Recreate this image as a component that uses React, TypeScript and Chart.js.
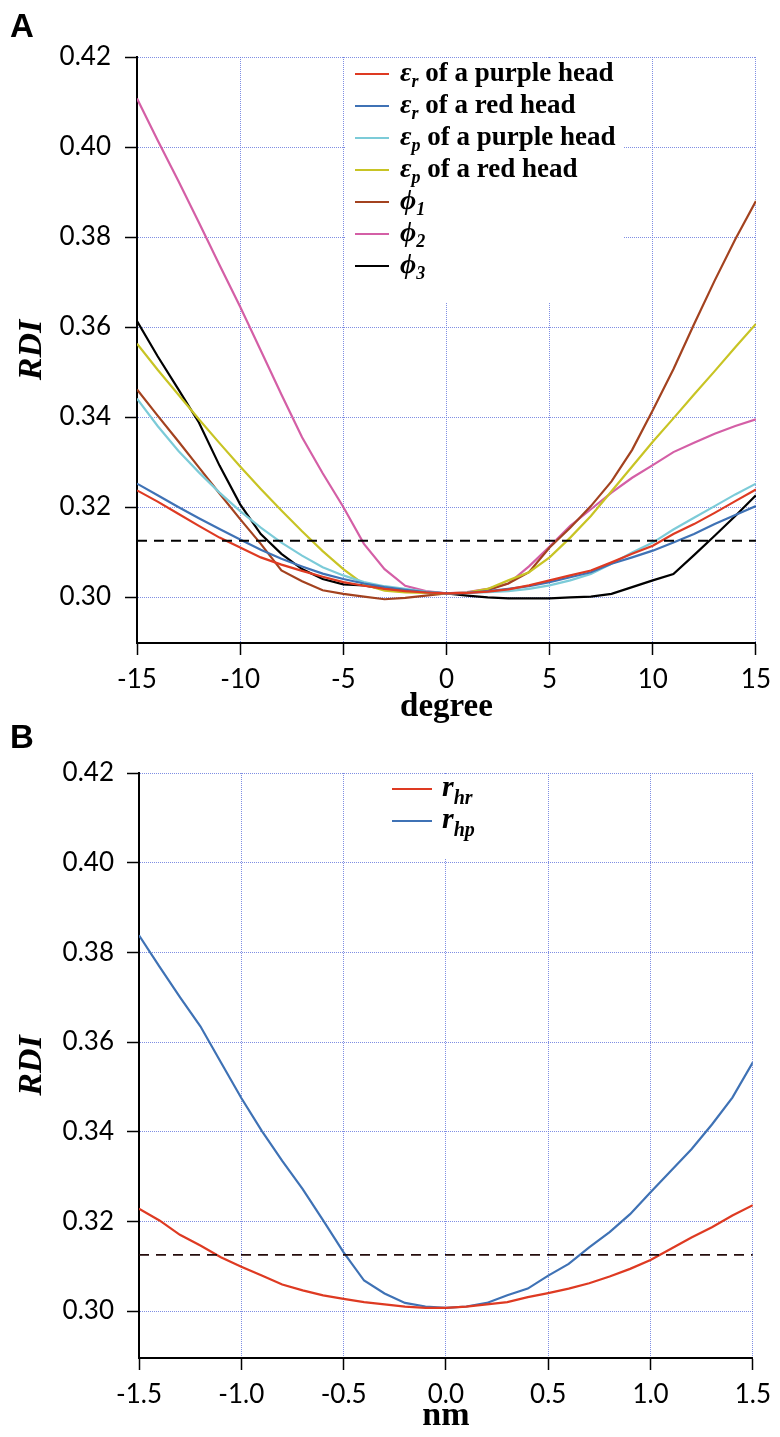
import React, { useEffect, useRef } from 'react';
import { Chart, registerables } from 'chart.js';

Chart.register(...registerables);

// ---------- Panel A data (RDI vs degree) ----------
const degrees = [-15, -14, -13, -12, -11, -10, -9, -8, -7, -6, -5, -4, -3, -2, -1, 0, 1, 2, 3, 4, 5, 6, 7, 8, 9, 10, 11, 12, 13, 14, 15];
const epsRPurple = [0.3237, 0.3212, 0.3185, 0.3158, 0.3132, 0.3110, 0.3088, 0.3072, 0.3058, 0.3045, 0.3033, 0.3025, 0.3018, 0.3013, 0.3010, 0.3008, 0.3009, 0.3012, 0.3017, 0.3026, 0.3037, 0.3048, 0.3059, 0.3077, 0.3096, 0.3114, 0.3140, 0.3162, 0.3187, 0.3213, 0.3239];
const epsRRed = [0.3252, 0.3226, 0.3200, 0.3175, 0.3151, 0.3128, 0.3105, 0.3085, 0.3068, 0.3052, 0.3040, 0.3030, 0.3022, 0.3016, 0.3011, 0.3008, 0.3009, 0.3013, 0.3018, 0.3024, 0.3033, 0.3044, 0.3055, 0.3074, 0.3088, 0.3103, 0.3121, 0.3140, 0.3162, 0.3182, 0.3202];
const epsPPurple = [0.3441, 0.3380, 0.3325, 0.3277, 0.3232, 0.3191, 0.3154, 0.3121, 0.3092, 0.3066, 0.3048, 0.3033, 0.3024, 0.3018, 0.3012, 0.3008, 0.3009, 0.3011, 0.3013, 0.3018, 0.3026, 0.3037, 0.3051, 0.3074, 0.3099, 0.3121, 0.3150, 0.3176, 0.3202, 0.3228, 0.3252];
const epsPRed = [0.3563, 0.3505, 0.3450, 0.3395, 0.3342, 0.3290, 0.3240, 0.3192, 0.3146, 0.3102, 0.3062, 0.3028, 0.3014, 0.3010, 0.3009, 0.3008, 0.3010, 0.3018, 0.3037, 0.3055, 0.3088, 0.3132, 0.3180, 0.3235, 0.3290, 0.3345, 0.3397, 0.3450, 0.3502, 0.3555, 0.3607];
const phi1 = [0.3461, 0.3403, 0.3346, 0.3288, 0.3230, 0.3173, 0.3118, 0.3059, 0.3035, 0.3015, 0.3007, 0.3001, 0.2995, 0.2998, 0.3003, 0.3008, 0.3009, 0.3015, 0.3030, 0.3055, 0.3110, 0.3154, 0.3202, 0.3257, 0.3327, 0.3415, 0.3506, 0.3606, 0.3703, 0.3795, 0.3880];
const phi2 = [0.4108, 0.4015, 0.3925, 0.3832, 0.3738, 0.3645, 0.3548, 0.3450, 0.3355, 0.3275, 0.3200, 0.3118, 0.3062, 0.3025, 0.3013, 0.3008, 0.3011, 0.3018, 0.3030, 0.3068, 0.3112, 0.3158, 0.3195, 0.3232, 0.3265, 0.3293, 0.3322, 0.3343, 0.3363, 0.3380, 0.3395];
const phi3 = [0.3613, 0.3535, 0.3462, 0.3388, 0.3292, 0.3206, 0.3140, 0.3096, 0.3062, 0.3040, 0.3028, 0.3026, 0.3018, 0.3015, 0.3011, 0.3008, 0.3003, 0.2999, 0.2997, 0.2997, 0.2997, 0.2999, 0.3001, 0.3007, 0.3022, 0.3037, 0.3051, 0.3093, 0.3136, 0.3180, 0.3226];

const seriesA = [epsRPurple, epsRRed, epsPPurple, epsPRed, phi1, phi2, phi3];
const colorsA = ['#de3a22', '#3f72b5', '#7ccbd8', '#c8c424', '#a3421f', '#d45fa6', '#000000'];
const labelsA = ['εr of a purple head', 'εr of a red head', 'εp of a purple head', 'εp of a red head', 'ϕ1', 'ϕ2', 'ϕ3'];
const legendSymA = ['ε', 'ε', 'ε', 'ε', 'ϕ', 'ϕ', 'ϕ'];
const legendSubA = ['r', 'r', 'p', 'p', '1', '2', '3'];
const legendRestA = [' of a purple head', ' of a red head', ' of a purple head', ' of a red head', '', '', ''];

// ---------- Panel B data (RDI vs nm) ----------
const nmValues = [-1.5, -1.4, -1.3, -1.2, -1.1, -1.0, -0.9, -0.8, -0.7, -0.6, -0.5, -0.4, -0.3, -0.2, -0.1, 0, 0.1, 0.2, 0.3, 0.4, 0.5, 0.6, 0.7, 0.8, 0.9, 1.0, 1.1, 1.2, 1.3, 1.4, 1.5];
const rHr = [0.3228, 0.3202, 0.3170, 0.3146, 0.3120, 0.3099, 0.3079, 0.3059, 0.3046, 0.3035, 0.3027, 0.3020, 0.3015, 0.3010, 0.3007, 0.3007, 0.3010, 0.3015, 0.3020, 0.3031, 0.3040, 0.3050, 0.3062, 0.3077, 0.3094, 0.3114, 0.3139, 0.3164, 0.3187, 0.3213, 0.3236];
const rHp = [0.3838, 0.3768, 0.3700, 0.3635, 0.3555, 0.3475, 0.3402, 0.3335, 0.3272, 0.3202, 0.3131, 0.3068, 0.3039, 0.3018, 0.3010, 0.3007, 0.3010, 0.3018, 0.3035, 0.3050, 0.3079, 0.3105, 0.3142, 0.3176, 0.3216, 0.3265, 0.3313, 0.3361, 0.3416, 0.3476, 0.3555];

const seriesB = [rHr, rHp];
const colorsB = ['#de3a22', '#3f72b5'];
const labelsB = ['rhr', 'rhp'];
const legendSymB = ['r', 'r'];
const legendSubB = ['hr', 'hp'];
const legendRestB = ['', ''];

// ---------- Shared ----------
const threshold = 0.3125;
const yTicks = [0.30, 0.32, 0.34, 0.36, 0.38, 0.40, 0.42];
const yTickLabels = ['0.30', '0.32', '0.34', '0.36', '0.38', '0.40', '0.42'];
const degreeTicks = [-15, -10, -5, 0, 5, 10, 15];
const degreeTickLabels = ['-15', '-10', '-5', '0', '5', '10', '15'];
const nmTicks = [-1.5, -1.0, -0.5, 0, 0.5, 1.0, 1.5];
const nmTickLabels = ['-1.5', '-1.0', '-0.5', '0.0', '0.5', '1.0', '1.5'];

const SERIF = '"Liberation Serif", "Times New Roman", serif';
const SANS = 'Lato, "Liberation Sans", sans-serif';
const GRID = 'rgba(105,122,222,0.85)';

type LegendSpec = {
  box: { x: number; y: number; w: number; h: number };
  lineX1: number; lineX2: number; textX: number; y0: number; dy: number;
  base: number; subDy: number;
  symFont: string; subFont: string; restFont: string;
  colors: string[]; syms: string[]; subs: string[]; rests: string[];
};

function makeLegendPlugin(spec: LegendSpec) {
  return {
    id: 'richLegend',
    afterDraw(chart: any) {
      const ctx = chart.ctx as CanvasRenderingContext2D;
      ctx.save();
      ctx.fillStyle = '#ffffff';
      ctx.fillRect(spec.box.x, spec.box.y, spec.box.w, spec.box.h);
      spec.colors.forEach((c, i) => {
        const y = spec.y0 + i * spec.dy;
        ctx.strokeStyle = c;
        ctx.lineWidth = 2;
        ctx.setLineDash([]);
        ctx.beginPath();
        ctx.moveTo(spec.lineX1, y);
        ctx.lineTo(spec.lineX2, y);
        ctx.stroke();
        ctx.fillStyle = '#000';
        ctx.textAlign = 'left';
        ctx.textBaseline = 'alphabetic';
        let x = spec.textX;
        ctx.font = spec.symFont;
        ctx.fillText(spec.syms[i], x, y + spec.base);
        x += ctx.measureText(spec.syms[i]).width;
        ctx.font = spec.subFont;
        ctx.fillText(spec.subs[i], x, y + spec.base + spec.subDy);
        x += ctx.measureText(spec.subs[i]).width;
        if (spec.rests[i]) {
          ctx.font = spec.restFont;
          ctx.fillText(spec.rests[i], x, y + spec.base);
        }
      });
      ctx.restore();
    },
  };
}

type PanelSpec = {
  xs: number[]; series: number[][]; colors: string[]; labels: string[];
  dashColor: string;
  xTicks: number[]; xTickLabels: string[]; xTitle: string; xTitleSize: number;
  yMin: number; padTop: number; padRight: number; yWidth: number; xHeight: number;
  yLabelPad: number; xTitlePadBottom: number;
  legend: LegendSpec;
};

function buildConfig(p: PanelSpec): any {
  const datasets: any[] = [
    {
      label: 'threshold',
      data: [{ x: p.xs[0], y: threshold }, { x: p.xs[p.xs.length - 1], y: threshold }],
      borderColor: p.dashColor,
      borderWidth: 1.8,
      borderDash: [10, 7],
      pointRadius: 0,
      fill: false,
    },
  ];
  p.series.forEach((s, i) => {
    datasets.push({
      label: p.labels[i],
      data: p.xs.map((x, j) => ({ x, y: s[j] })),
      borderColor: p.colors[i],
      borderWidth: 2.2,
      pointRadius: 0,
      tension: 0,
      fill: false,
    });
  });
  return {
    type: 'line',
    data: { datasets },
    options: {
      animation: false,
      responsive: false,
      devicePixelRatio: 1,
      layout: { padding: { top: p.padTop, right: p.padRight, left: 0, bottom: 0 } },
      plugins: { legend: { display: false }, tooltip: { enabled: false } },
      scales: {
        x: {
          type: 'linear',
          min: p.xTicks[0],
          max: p.xTicks[p.xTicks.length - 1],
          afterBuildTicks: (s: any) => { s.ticks = p.xTicks.map((v) => ({ value: v })); },
          afterFit: (s: any) => { s.height = p.xHeight; },
          ticks: {
            autoSkip: false, maxRotation: 0, padding: 9, color: '#000',
            font: { family: SANS, size: 26 },
            callback: (_v: any, i: number) => p.xTickLabels[i],
          },
          grid: { color: GRID, lineWidth: 1, tickColor: '#000', tickLength: 12, tickWidth: 1.5 },
          border: { color: '#000', width: 2, dash: [1, 1] },
          title: {
            display: true, text: p.xTitle, color: '#000',
            font: { family: SERIF, size: p.xTitleSize, weight: 'bold' },
            padding: { top: 0, bottom: p.xTitlePadBottom },
          },
        },
        y: {
          type: 'linear',
          min: p.yMin,
          max: yTicks[yTicks.length - 1],
          afterBuildTicks: (s: any) => { s.ticks = yTicks.map((v) => ({ value: v })); },
          afterFit: (s: any) => { s.width = p.yWidth; },
          ticks: {
            padding: p.yLabelPad, color: '#000',
            font: { family: SANS, size: 26 },
            callback: (_v: any, i: number) => yTickLabels[i],
          },
          grid: { color: GRID, lineWidth: 1, tickColor: '#000', tickLength: 12, tickWidth: 1.5 },
          border: { color: '#000', width: 2, dash: [1, 1] },
          title: {
            display: true, text: 'RDI', color: '#000',
            font: { family: SERIF, size: 34, weight: 'bold', style: 'italic' },
            padding: { top: 12, bottom: 0 },
          },
        },
      },
    },
    plugins: [makeLegendPlugin(p.legend)],
  };
}

const panelA: PanelSpec = {
  xs: degrees, series: seriesA, colors: colorsA, labels: labelsA, dashColor: '#000000',
  xTicks: degreeTicks, xTickLabels: degreeTickLabels, xTitle: 'degree', xTitleSize: 33,
  yMin: 0.28978, padTop: 57, padRight: 23, yWidth: 137, xHeight: 87, yLabelPad: 14, xTitlePadBottom: 3,
  legend: {
    box: { x: 345, y: 59, w: 279, h: 244 },
    lineX1: 355, lineX2: 389, textX: 400, y0: 74, dy: 32, base: 7, subDy: 6,
    symFont: `italic bold 28px ${SERIF}`, subFont: `italic bold 18px ${SERIF}`, restFont: `bold 27px ${SERIF}`,
    colors: colorsA, syms: legendSymA, subs: legendSubA, rests: legendRestA,
  },
};

const panelB: PanelSpec = {
  xs: nmValues, series: seriesB, colors: colorsB, labels: labelsB, dashColor: '#240c0c',
  xTicks: nmTicks, xTickLabels: nmTickLabels, xTitle: 'nm', xTitleSize: 34,
  yMin: 0.28952, padTop: 53, padRight: 20, yWidth: 139, xHeight: 79, yLabelPad: 13, xTitlePadBottom: 0,
  legend: {
    box: { x: 385, y: 55, w: 125, h: 83 },
    lineX1: 392, lineX2: 432, textX: 442, y0: 69, dy: 32, base: 7, subDy: 8,
    symFont: `italic bold 30px ${SERIF}`, subFont: `italic bold 20px ${SERIF}`, restFont: `bold 25px ${SERIF}`,
    colors: colorsB, syms: legendSymB, subs: legendSubB, rests: legendRestB,
  },
};

function PanelChart({ spec, top, height }: { spec: PanelSpec; top: number; height: number }) {
  const ref = useRef<HTMLCanvasElement | null>(null);
  useEffect(() => {
    if (!ref.current) return;
    const chart = new Chart(ref.current, buildConfig(spec));
    return () => chart.destroy();
  }, [spec]);
  return (
    <canvas
      ref={ref}
      width={780}
      height={height}
      style={{ position: 'absolute', left: 0, top, width: 780, height }}
    />
  );
}

const letterStyle: React.CSSProperties = {
  position: 'absolute', left: 10, fontFamily: '"Liberation Sans", Arial, sans-serif',
  fontWeight: 'bold', fontSize: 33, lineHeight: '33px', color: '#000', zIndex: 2,
};

export default function App() {
  return (
    <div style={{ position: 'absolute', left: 0, top: 0, width: 780, height: 1437, background: '#fff', overflow: 'hidden' }}>
      <PanelChart spec={panelA} top={0} height={730} />
      <PanelChart spec={panelB} top={720} height={717} />
      <div style={{ ...letterStyle, top: 9 }}>A</div>
      <div style={{ ...letterStyle, top: 720 }}>B</div>
    </div>
  );
}
